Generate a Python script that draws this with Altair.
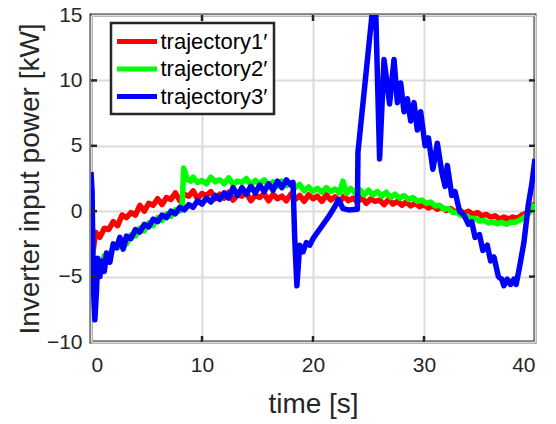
import altair as alt
import pandas as pd

# ---------------- data ----------------
series_names = ["trajectory1\u2032", "trajectory2\u2032", "trajectory3\u2032"]
series_colors = ["#ff0000", "#00ff00", "#0000ff"]

x_ticks = [0, 10, 20, 30, 40]
y_ticks = [-10, -5, 0, 5, 10, 15]

red_t = [0, 0.2, 0.4, 0.8, 1.2, 1.6, 2.0, 2.4, 2.8, 3.2, 3.6, 4.0, 4.4, 4.8, 5.2, 5.6, 6.0,
         6.4, 6.8, 7.2, 7.6, 8.0, 8.4, 8.8, 9.2, 9.6, 10.0, 10.4, 10.8, 11.2, 11.6, 12.0,
         12.4, 12.8, 13.2, 13.6, 14.0, 14.4, 14.8, 15.2, 15.6, 16.0, 16.4, 16.8, 17.2, 17.6,
         18.0, 18.4, 18.8, 19.2, 19.6, 20.0, 20.4, 20.8, 21.2, 21.6, 22.0, 22.4, 22.8, 23.2,
         23.6, 24.0, 24.4, 24.8, 25.2, 25.6, 26.0, 26.4, 26.8, 27.2, 27.6, 28.0, 28.4, 28.8,
         29.2, 29.6, 30.0, 30.4, 30.8, 31.2, 31.6, 32.0, 32.4, 32.8, 33.2, 33.6, 34.0, 34.4,
         34.8, 35.2, 35.6, 36.0, 36.4, 36.8, 37.2, 37.6, 38.0, 38.4, 38.8, 39.2, 39.6, 40.0]
red_v = [0.3, -3.0, -1.6, -2.0, -1.3, -1.4, -0.8, -1.1, -0.3, -0.5, -0.1, -0.3, 0.45, 0.0,
         0.6, 0.45, 0.95, 0.5, 1.05, 0.9, 1.4, 0.8, 1.3, 1.15, 1.55, 0.95, 1.35, 1.2, 1.5,
         0.95, 1.3, 1.0, 1.45, 0.85, 1.25, 1.15, 1.4, 0.8, 1.2, 1.05, 1.35, 0.8, 1.3, 0.95,
         1.15, 0.8, 1.3, 0.9, 1.2, 0.75, 1.25, 0.95, 1.15, 0.75, 1.25, 0.85, 1.1, 0.7, 1.15,
         0.8, 1.0, 0.7, 1.05, 0.6, 0.95, 0.75, 0.85, 0.5, 0.9, 0.55, 0.75, 0.45, 0.7, 0.4,
         0.6, 0.35, 0.5, 0.25, 0.4, 0.15, 0.3, 0.05, 0.2, -0.05, 0.1, -0.15, 0.0, -0.25,
         -0.1, -0.35, -0.25, -0.45, -0.35, -0.6, -0.45, -0.6, -0.45, -0.55, -0.3, -0.15, 0.2,
         0.6]

green_t = [0, 0.2, 0.4, 0.8, 1.2, 1.6, 2.0, 2.4, 2.8, 3.2, 3.6, 4.0, 4.4, 4.8, 5.2, 5.6,
           6.0, 6.4, 6.8, 7.2, 7.6, 8.0, 8.2, 8.35, 8.7, 9.0, 9.2, 9.6, 10.0, 10.4, 10.8,
           11.2, 11.6, 12.0, 12.4, 12.8, 13.2, 13.6, 14.0, 14.4, 14.8, 15.2, 15.6, 16.0,
           16.4, 16.8, 17.2, 17.6, 18.0, 18.4, 18.8, 19.2, 19.6, 20.0, 20.4, 20.8, 21.2,
           21.6, 22.0, 22.4, 22.7, 23.0, 23.4, 23.8, 24.2, 24.6, 25.0, 25.4, 25.8, 26.2,
           26.6, 27.0, 27.4, 27.8, 28.2, 28.6, 29.0, 29.4, 29.8, 30.2, 30.6, 31.0, 31.4,
           31.8, 32.2, 32.6, 33.0, 33.4, 33.8, 34.2, 34.6, 35.0, 35.4, 35.8, 36.2, 36.6,
           37.0, 37.4, 37.8, 38.2, 38.6, 39.0, 39.4, 39.8, 40.0]
green_v = [-0.5, -4.0, -4.6, -4.2, -3.4, -3.6, -2.7, -2.8, -2.2, -2.5, -1.8, -1.9, -1.3,
           -1.5, -0.9, -1.1, -0.5, -0.7, -0.2, -0.4, 0.1, 0.0, 0.3, 3.3, 2.4, 2.3, 2.6, 2.2,
           2.35, 2.1, 2.6, 2.25, 2.4, 2.1, 2.55, 2.05, 2.3, 2.2, 2.5, 2.0, 2.35, 2.1, 2.4,
           1.95, 2.25, 1.9, 2.3, 1.95, 2.15, 1.8, 2.05, 1.55, 1.85, 1.5, 1.75, 1.45, 1.8, 1.5,
           1.7, 1.4, 2.3, 1.35, 1.75, 1.4, 1.65, 1.25, 1.6, 1.25, 1.5, 1.15, 1.45, 1.05, 1.3,
           1.0, 1.2, 0.9, 1.05, 0.75, 0.85, 0.6, 0.7, 0.4, 0.45, 0.15, 0.2, -0.1, -0.1,
           -0.35, -0.35, -0.55, -0.55, -0.75, -0.7, -0.9, -0.8, -0.95, -0.85, -1.0, -0.85,
           -0.85, -0.7, -0.5, -0.2, 0.3, 0.55]

blue_t = [0, 0.1, 0.2, 0.35, 0.5, 0.6, 0.8, 1.0, 1.2, 1.4, 1.7, 2.0, 2.3, 2.6, 2.9, 3.2,
          3.6, 4.0, 4.4, 4.8, 5.2, 5.6, 6.0, 6.4, 6.8, 7.2, 7.6, 8.0, 8.4, 8.8, 9.2, 9.6,
          10.0, 10.4, 10.8, 11.2, 11.6, 12.0, 12.4, 12.8, 13.2, 13.6, 14.0, 14.4, 14.8,
          15.2, 15.6, 16.0, 16.4, 16.8, 17.2, 17.6, 18.0, 18.2, 18.35, 18.55, 18.8, 19.1,
          19.4, 19.7, 20.0, 21.0, 21.5, 22.0, 22.3, 22.7, 23.2, 24.0, 24.05, 25.35, 25.65,
          26.0, 26.4, 26.9, 27.3, 27.6, 27.9, 28.2, 28.5, 28.8, 29.1, 29.4, 29.7, 30.1,
          30.4, 30.8, 31.2, 31.6, 31.9, 32.1, 32.5, 32.8, 33.2, 33.6, 34.0, 34.3, 34.6,
          35.0, 35.3, 35.7, 36.0, 36.3, 36.7, 37.0, 37.2, 37.5, 37.8, 38.1, 38.3, 38.6,
          39.0, 39.4, 39.7, 40.0]
blue_v = [3.0, 1.5, -5.5, -8.3, -6.0, -3.6, -5.0, -3.8, -4.6, -3.2, -3.9, -2.5, -2.8, -2.0,
          -2.9, -1.9, -2.1, -1.4, -1.6, -1.0, -1.2, -0.6, -0.8, -0.3, -0.5, 0.0, -0.2, 0.3,
          0.1, 0.5, 0.3, 0.8, 0.55, 1.0, 0.7, 1.2, 0.9, 1.4, 1.0, 1.8, 1.2, 1.8, 1.3, 1.9,
          1.4, 2.0, 1.5, 2.1, 1.6, 2.3, 1.8, 2.4, 2.0, 2.2, -2.0, -5.7, -2.6, -3.1, -2.4,
          -2.6, -2.1, -0.9, -0.3, 0.4, 0.9, 0.2, 0.1, 0.15, 4.5, 15.3, 15.3, 4.0, 11.6, 8.2,
          11.6, 8.3, 9.8, 7.6, 8.6, 6.9, 8.3, 6.2, 7.6, 5.0, 5.6, 3.2, 5.2, 3.0, 1.9, 3.5,
          1.2, 1.5, 0.0, -0.3, -1.0, -0.8, -2.0, -1.8, -3.0, -2.6, -3.8, -3.5, -5.0, -5.2,
          -5.7, -5.2, -5.6, -5.2, -5.6, -4.3, -2.4, 0.5, 2.0, 4.0]

# ---------------- table ----------------
rows = []
for name, ts, vs in zip(series_names, [red_t, green_t, blue_t], [red_v, green_v, blue_v]):
    for i, (t, v) in enumerate(zip(ts, vs)):
        rows.append({"time": t, "power": v, "series": name, "order": i})
df = pd.DataFrame(rows)

W, H = 444, 327
DARK = "#262626"
FONT = "Liberation Sans"

xs = alt.Scale(domain=[0, 40], nice=False, zero=False)
ys = alt.Scale(domain=[-10, 15], nice=False, zero=False)

lines = alt.Chart(df).mark_line(strokeWidth=5.5, clip=True, strokeJoin="round").encode(
    x=alt.X("time:Q", scale=xs,
            axis=alt.Axis(values=x_ticks, title="time [s]", ticks=False, domain=False,
                          grid=True, labelPadding=12, titleBaseline="alphabetic",
                          titleY=70, format="d")),
    y=alt.Y("power:Q", scale=ys,
            axis=alt.Axis(values=y_ticks, title="Inverter input power [kW]", ticks=False,
                          domain=False, grid=True, labelPadding=9,
                          titleBaseline="alphabetic", titleX=-53, titleY=H / 2,
                          format="d")),
    color=alt.Color("series:N",
                    scale=alt.Scale(domain=series_names, range=series_colors),
                    legend=alt.Legend(title=None, orient="none", legendX=20, legendY=8,
                                      symbolType="M-2,0H2", symbolSize=400,
                                      symbolStrokeWidth=5, symbolOffset=7.5,
                                      labelOffset=11, rowPadding=3.5, padding=6,
                                      labelFontSize=22, labelColor="#000000",
                                      labelFont=FONT, labelLimit=400,
                                      strokeColor=DARK, fillColor="white")),
    order="order:Q",
)

xt = pd.DataFrame({"t": x_ticks[1:-1]})
yt = pd.DataFrame({"p": y_ticks[1:-1]})
tick_style = dict(color=DARK, strokeWidth=2.5)
bot = alt.Chart(xt).mark_rule(**tick_style).encode(
    x=alt.X("t:Q", scale=xs), y=alt.value(H), y2=alt.value(H - 6))
top = alt.Chart(xt).mark_rule(**tick_style).encode(
    x=alt.X("t:Q", scale=xs), y=alt.value(0), y2=alt.value(6))
lft = alt.Chart(yt).mark_rule(**tick_style).encode(
    y=alt.Y("p:Q", scale=ys), x=alt.value(0), x2=alt.value(6))
rgt = alt.Chart(yt).mark_rule(**tick_style).encode(
    y=alt.Y("p:Q", scale=ys), x=alt.value(W), x2=alt.value(W - 6))

chart = alt.layer(lines, bot, top, lft, rgt).properties(
    width=W, height=H,
    padding={"left": 91, "top": 15, "right": 21, "bottom": 82},
    autosize=alt.AutoSizeParams(type="none"),
).configure(
    font=FONT,
).configure_view(
    stroke=DARK, strokeWidth=3,
).configure_axis(
    labelFont=FONT, labelFontSize=21, labelColor=DARK,
    titleFont=FONT, titleFontSize=28, titleFontWeight="normal", titleColor=DARK,
    gridColor="#dcdcdc", gridWidth=2, gridOpacity=1,
).configure_legend(
    strokeWidth=2.5,
)

chart.save("out.html", embed_options={"renderer": "svg", "actions": False})
